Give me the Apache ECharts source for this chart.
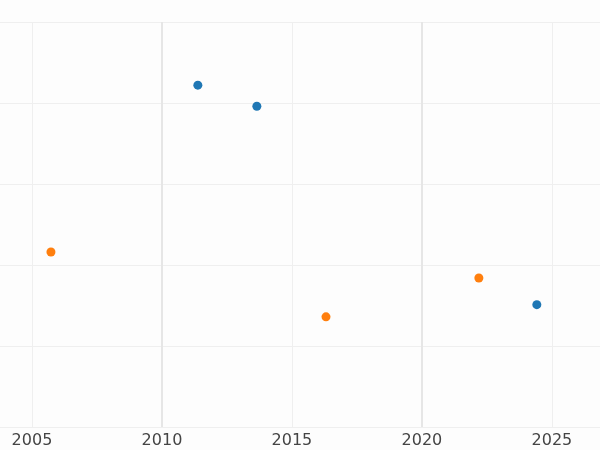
<!DOCTYPE html>
<html><head><meta charset="utf-8">
<script src="https://cdn.jsdelivr.net/npm/echarts@6/dist/echarts.min.js"></script>
<style>html,body{margin:0;padding:0;background:#fdfdfd}#c{width:600px;height:450px}</style>
</head><body><div id="c"></div>
<script>
var xTicks = [2005, 2010, 2015, 2020, 2025];
var majorTicks = [2010, 2020];
var blueX = [2011.38, 2013.65, 2024.42];
var blueY = [4.22, 3.96, 1.51];
var orangeX = [2005.73, 2016.31, 2022.19];
var orangeY = [2.16, 1.36, 1.84];
var colors = ['#1f77b4', '#ff7f0e', '#efefef', '#444444']; // 蓝 橙 网格 字体

var myChart = echarts.init(document.getElementById('c'));
function pairs(xs, ys){ return xs.map(function(x, i){ return [x, ys[i]]; }); }
var option = {
    backgroundColor: '#fdfdfd',
    grid: { left: 0, right: 0, top: 22, bottom: 23 },
    xAxis: {
        type: 'value', min: 2003.77, max: 2026.85,
        axisLine: { show: false },
        axisTick: { show: false, customValues: xTicks },
        axisLabel: { customValues: xTicks, color: colors[3], fontSize: 16, margin: 6, fontFamily: 'DejaVu Sans',
            formatter: function (v) { return String(v); } },
        splitLine: { show: true, lineStyle: { color: colors[2], width: 1 } }
    },
    yAxis: {
        type: 'value', min: 0, max: 5, interval: 1,
        axisLine: { show: false }, axisTick: { show: false }, axisLabel: { show: false },
        splitLine: { show: true, lineStyle: { color: colors[2], width: 1 } }
    },
    series: [
        { type: 'scatter', data: pairs(blueX, blueY), symbolSize: 9, itemStyle: { color: colors[0], opacity: 1 },
          markLine: { silent: true, symbol: 'none', label: { show: false },
              lineStyle: { color: '#e6e6e6', width: 2, type: 'solid' },
              data: majorTicks.map(function(v){ return { xAxis: v }; }) } },
        { type: 'scatter', data: pairs(orangeX, orangeY), symbolSize: 9, itemStyle: { color: colors[1], opacity: 1 } }
    ]
};
myChart.setOption(option);
</script></body></html>
